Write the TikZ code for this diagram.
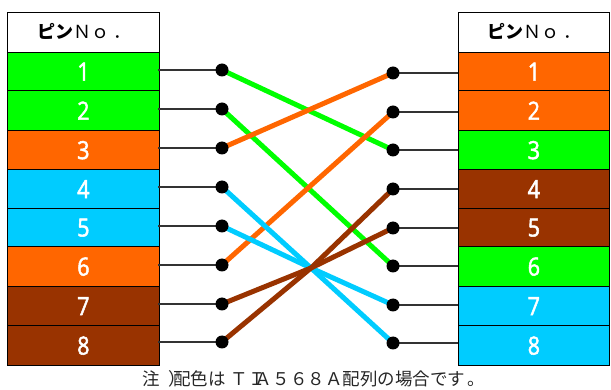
\documentclass[tikz,border=0pt]{standalone}
\usepackage{fontspec}
\setmainfont{Open Sans}
\newfontfamily\digitf[FakeStretch=0.86,FakeBold=2]{Open Sans}
\newfontfamily\cjk{Noto Sans CJK JP}
\tikzset{
 x=1pt,y=-1pt,
 pinbox/.style={draw=black,line width=1.3pt,minimum width=151.5pt,anchor=north west,inner sep=0pt,text=white,font=\digitf\fontsize{25}{25}\selectfont},
 headbox/.style={draw=black,line width=1.3pt,minimum width=151.5pt,anchor=north west,inner sep=0pt,fill=white,text=black},
 headtext/.style={font=\cjk\fontsize{18}{18}\selectfont,anchor=west,inner sep=0pt},
 notetext/.style={font=\cjk\fontsize{17.5}{17.5}\selectfont,anchor=base west,inner sep=0pt,text=black!85},
 dot/.style={circle,fill=black,inner sep=0pt,minimum width=12pt,minimum height=13pt},
 lead/.style={draw=black!80,line width=1.1pt},
 wire/.style={line width=5pt},
}
\definecolor{cg}{RGB}{0,255,0}
\definecolor{co}{RGB}{255,102,0}
\definecolor{cb}{RGB}{0,204,255}
\definecolor{cn}{RGB}{153,51,0}
\begin{document}
\begin{tikzpicture}
\useasboundingbox (0,0) rectangle (611,390);
\def\pbox#1#2#3#4#5{\node[pinbox,fill=#4,minimum height=#3 pt] (#1) at (#2) {#5};}
% left
\node[headbox,minimum height=40pt] (lh) at (7,12) {};
\node[headtext] (lht) at (37,31) {\textbf{ピン}Ｎｏ\kern4pt ．};
\pbox{l1}{7,52}{38}{cg}{1}
\pbox{l2}{7,90}{40}{cg}{2}
\pbox{l3}{7,130}{39}{co}{3}
\pbox{l4}{7,169}{39}{cb}{4}
\pbox{l5}{7,208}{38}{cb}{5}
\pbox{l6}{7,246}{40}{co}{6}
\pbox{l7}{7,286}{39}{cn}{7}
\pbox{l8}{7,325}{40}{cn}{8}
% right
\node[headbox,minimum height=40pt] (rh) at (457.5,12) {};
\node[headtext] (rht) at (487.5,31) {\textbf{ピン}Ｎｏ\kern4pt ．};
\pbox{r1}{457.5,52}{38}{co}{1}
\pbox{r2}{457.5,90}{40}{co}{2}
\pbox{r3}{457.5,130}{39}{cg}{3}
\pbox{r4}{457.5,169}{39}{cn}{4}
\pbox{r5}{457.5,208}{38}{cn}{5}
\pbox{r6}{457.5,246}{40}{cg}{6}
\pbox{r7}{457.5,286}{39}{cb}{7}
\pbox{r8}{457.5,325}{40}{cb}{8}
% dots
\foreach \n/\y/\v in {1/70/73,2/109/112,3/148/150,4/187/189,5/226/228,6/265/266,7/304/305,8/342/343}{
 \coordinate (a\n) at (222,\y);
 \coordinate (b\n) at (393,\v);
}
\foreach \n in {1,...,8}{
 \draw[lead] (a\n) -- (158,0|-a\n);
 \draw[lead] (b\n) -- (457.5,0|-b\n);
}
\coordinate (cross) at (311,268);
\draw[wire,cg] (a1) -- (b3);
\draw[wire,cg] (a2) -- (b6);
\draw[wire,co] (a3) -- (b1);
\draw[wire,co] (a6) -- (b2);
\draw[wire,cb] (a4) -- (cross) -- (b8);
\draw[wire,cb] (a5) -- (cross) -- (b7);
\draw[wire,cn] (a7) -- (cross) -- (b5);
\draw[wire,cn] (a8) -- (cross) -- (b4);
\foreach \n in {1,...,8}{
 \node[dot] (da\n) at (a\n) {};
 \node[dot] (db\n) at (b\n) {};
}
\node[notetext] (note) at (142,385) {注\kern9pt）\kern-13pt 配色は\kern4.5ptＴ\kern0.5ptＩ\kern-11.5ptＡ\kern1pt ５６８Ａ配列の場合です\kern2pt 。};
\end{tikzpicture}
\end{document}
